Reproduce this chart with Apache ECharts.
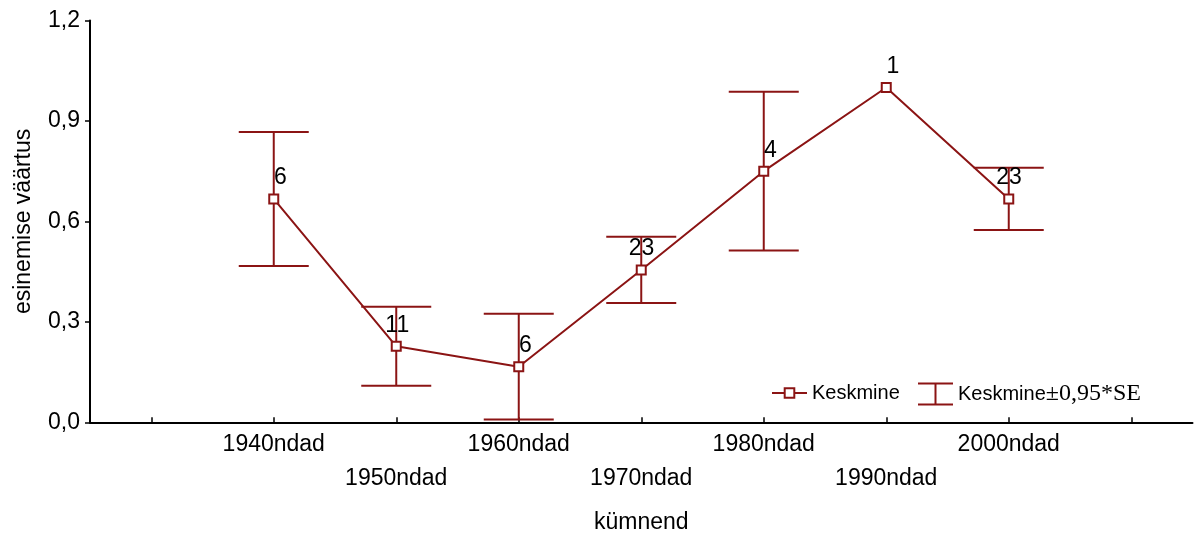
<!DOCTYPE html>
<html>
<head>
<meta charset="utf-8">
<script src="https://cdn.jsdelivr.net/npm/echarts@6/dist/echarts.min.js"></script>
<style>html,body{margin:0;padding:0;background:#fff;}#c{width:1195px;height:534px;}</style>
</head>
<body>
<div id="c"></div>
<script>
var categories = ['1940ndad', '1950ndad', '1960ndad', '1970ndad', '1980ndad', '1990ndad', '2000ndad'];
var means = [0.667, 0.227, 0.166, 0.455, 0.750, 1.000, 0.667];
var errHalf = [0.200, 0.118, 0.158, 0.099, 0.237, 0, 0.093];
var counts = ['6', '11', '6', '23', '4', '1', '23'];
var yTicks = [0, 0.3, 0.6, 0.9, 1.2];

var RED = '#8B1414';
var FONT = 'Liberation Sans, Arial, sans-serif';

// axis with an empty slot at each end
var axisCats = [''].concat(categories).concat(['']);
var lineData = axisCats.map(function (c, i) {
  return (i === 0 || i === axisCats.length - 1) ? '-' : means[i - 1];
});
var errData = [];
for (var i = 0; i < categories.length; i++) {
  if (errHalf[i] > 0) errData.push([i + 1, means[i] - errHalf[i], means[i] + errHalf[i]]);
}

var chart = echarts.init(document.getElementById('c'));
chart.setOption({
  animation: false,
  backgroundColor: '#fff',
  grid: { left: 90, right: 2.5, top: 20.5, bottom: 111.7, containLabel: false, outerBoundsMode: 'none' },
  xAxis: {
    type: 'category',
    data: axisCats,
    boundaryGap: true,
    name: 'kümnend',
    nameLocation: 'middle',
    nameGap: 89,
    nameTextStyle: { color: '#000', fontSize: 23, fontFamily: FONT },
    axisLine: { lineStyle: { color: '#000', width: 2 } },
    axisTick: { show: true, alignWithLabel: true, inside: true, length: 5, lineStyle: { color: '#000', width: 1.5 } },
    axisLabel: {
      interval: 0,
      color: '#000', fontSize: 23, fontFamily: FONT, margin: 5, lineHeight: 34,
      formatter: function (v, idx) { return (idx % 2 === 0) ? '\n' + v : v; }
    },
    splitLine: { show: false }
  },
  yAxis: {
    type: 'value',
    min: yTicks[0], max: yTicks[yTicks.length - 1], interval: 0.3,
    name: 'esinemise väärtus',
    nameLocation: 'middle',
    nameGap: 55,
    nameRotate: 90,
    nameTextStyle: { color: '#000', fontSize: 23, fontFamily: FONT },
    axisLine: { show: true, lineStyle: { color: '#000', width: 2 } },
    axisTick: { show: true, inside: false, length: 5, lineStyle: { color: '#000', width: 1.5 } },
    axisLabel: {
      color: '#000', fontSize: 23, fontFamily: FONT, margin: 10,
      formatter: function (v) { return v.toFixed(1).replace('.', ','); }
    },
    splitLine: { show: false }
  },
  legend: [
    {
      data: ['Keskmine'],
      left: 766, top: 378,
      itemWidth: 35, itemHeight: 12, itemGap: 10,
      textStyle: { color: '#000', fontSize: 20, fontFamily: FONT }
    },
    {
      data: [{ name: 'Keskmine±0,95*SE', icon: 'path://M0,0 L35,0 M17.5,0 L17.5,21 M0,21 L35,21' }],
      left: 912, top: 377,
      itemWidth: 35, itemHeight: 21,
      itemStyle: { color: 'rgba(0,0,0,0)', borderColor: RED, borderWidth: 2 },
      formatter: function (n) { return '{a|Keskmine}{b|±0,95*SE}'; },
      textStyle: {
        color: '#000', fontSize: 20, fontFamily: FONT,
        rich: {
          a: { fontSize: 20, fontFamily: FONT, color: '#000' },
          b: { fontSize: 24, fontFamily: 'Liberation Serif, Times New Roman, serif', color: '#000' }
        }
      }
    }
  ],
  series: [
    {
      name: 'Keskmine±0,95*SE',
      type: 'custom',
      data: errData,
      z: 2,
      itemStyle: { color: RED },
      renderItem: function (params, api) {
        var x = api.value(0);
        var lo = api.coord([x, api.value(1)]);
        var hi = api.coord([x, api.value(2)]);
        var half = 35;
        var st = { stroke: RED, lineWidth: 2 };
        return {
          type: 'group',
          children: [
            { type: 'line', shape: { x1: lo[0], y1: lo[1], x2: hi[0], y2: hi[1] }, style: st },
            { type: 'line', shape: { x1: hi[0] - half, y1: hi[1], x2: hi[0] + half, y2: hi[1] }, style: st },
            { type: 'line', shape: { x1: lo[0] - half, y1: lo[1], x2: lo[0] + half, y2: lo[1] }, style: st }
          ]
        };
      },
      encode: { x: 0, y: [1, 2] }
    },
    {
      name: 'Keskmine',
      type: 'line',
      data: lineData,
      z: 3,
      symbol: 'emptyRect',
      symbolSize: 9,
      showAllSymbol: true,
      lineStyle: { color: RED, width: 2 },
      itemStyle: { color: RED, borderColor: RED, borderWidth: 1.2 },
      label: {
        show: true,
        position: 'top',
        distance: 4,
        align: 'right',
        offset: [13, 0],
        color: '#000', fontSize: 23, fontFamily: FONT,
        formatter: function (p) { return counts[p.dataIndex - 1]; }
      }
    }
  ]
});
</script>
</body>
</html>
